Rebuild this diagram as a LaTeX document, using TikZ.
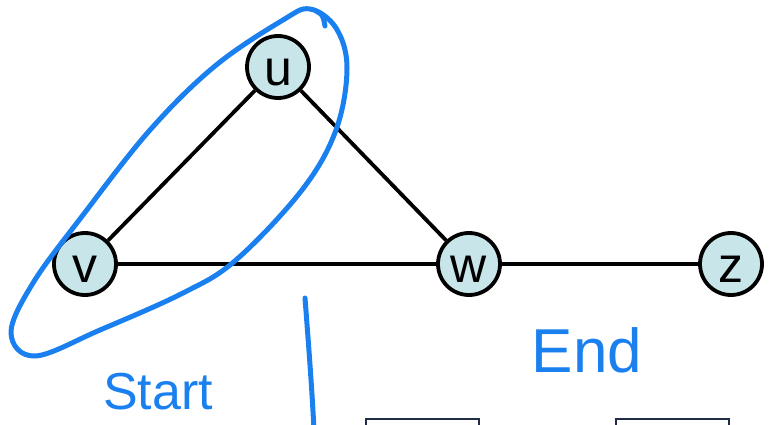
\documentclass[tikz,border=0pt]{standalone}
\usepackage{fontspec}
\setmainfont{Liberation Sans}
\definecolor{nodefill}{RGB}{200,230,233}
\definecolor{ink}{RGB}{26,128,240}
\definecolor{boxline}{RGB}{32,44,72}
\begin{document}
\begin{tikzpicture}[x=1pt,y=-1pt,
  vert/.style={circle,draw=black,line width=3.8pt,fill=nodefill,minimum size=62pt,inner sep=0pt,
    font=\fontsize{50}{50}\selectfont,text height=37pt,text depth=0pt},
  edge/.style={line width=3.8pt,black},
  pen/.style={ink,line width=5pt,line cap=round,line join=round},
  hand/.style={ink,inner sep=0pt}]
\useasboundingbox (0,0) rectangle (769,425);
% nodes
\node[vert] (u) at (278,67) {u};
\node[vert] (v) at (85,264) {v};
\node[vert] (w) at (469,264) {w};
\node[vert] (z) at (731,264) {z};
% edges
\draw[edge] (u) -- (v);
\draw[edge] (u) -- (w);
\draw[edge] (v) -- (w);
\draw[edge] (w) -- (z);
% handwritten loop
\draw[pen] plot[smooth cycle,tension=0.6] coordinates {(310,9) (336,28) (347,68) (336,130) (302,190) (236,260) (183,293) (100,330) (35,356) (11,333) (33,283) (83,215) (150,130) (215,66) (283,20)};
\draw[pen] (316,11) .. controls (323,15) .. (325,26);
% vertical stroke
\draw[pen] (305,298) .. controls (309,350) and (312,390) .. (314,430);
% handwritten words
\node[hand,font=\fontsize{52}{52}\selectfont] (start) at (158,392) {Start};
\node[hand,font=\fontsize{62}{62}\selectfont] (end) at (587,350) {End};
% boxes at bottom
\draw[boxline,line width=2pt] (366,430) -- (366,419) -- (479,419) -- (479,430);
\draw[boxline,line width=2pt] (616,430) -- (616,419) -- (729,419) -- (729,430);
\end{tikzpicture}
\end{document}
